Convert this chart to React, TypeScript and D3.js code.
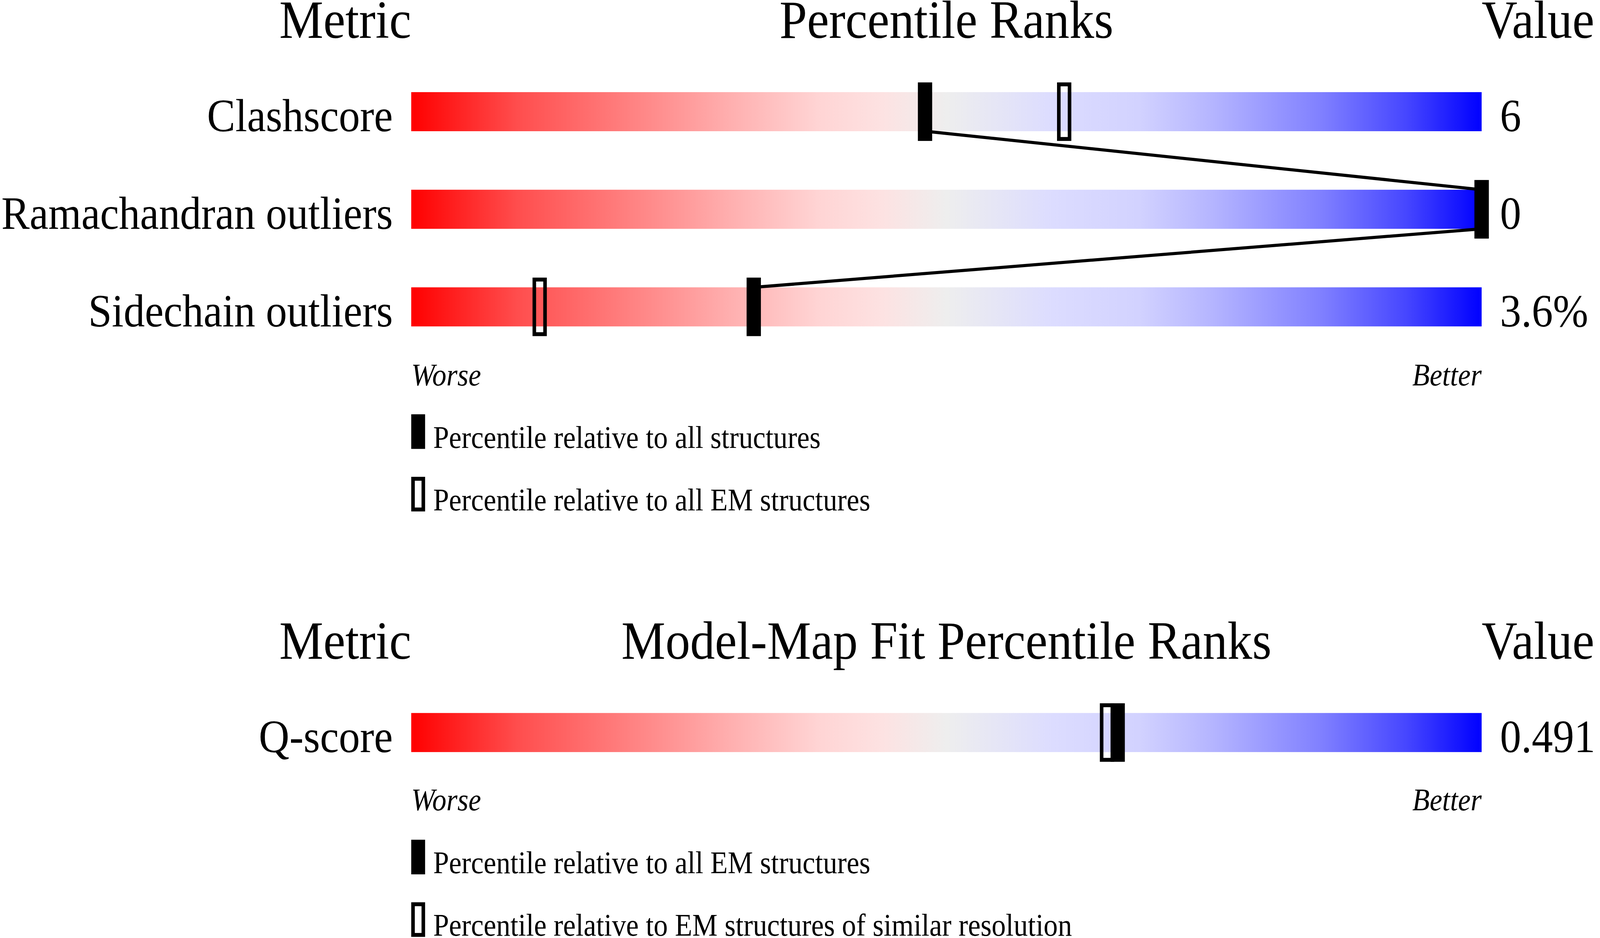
import React, { useEffect, useRef } from 'react'
import * as d3 from 'd3'

// validation sliders: geometry quality
const geometryMetrics = ['Clashscore', 'Ramachandran outliers', 'Sidechain outliers']
const geometryValues = ['6', '0', '3.6%']
const geometryPctAll = [48, 100, 32]
const geometryPctEM = [61, 100, 12]
const geometryLegend = ['Percentile relative to all structures', 'Percentile relative to all EM structures']

// model-map fit
const fitMetrics = ['Q-score']
const fitValues = ['0.491']
const fitPctAllEM = [66]
const fitPctSimilar = [65]
const fitLegend = ['Percentile relative to all EM structures', 'Percentile relative to EM structures of similar resolution']

const sliderStops: [number, string][] = [
    [0, '#ff0000'],
    [0.1, '#ff4e4e'],
    [0.2, '#ff7f7f'],
    [0.3, '#ffb0b0'],
    [0.38, '#ffd4d4'],
    [0.44, '#fde2e2'],
    [0.5, '#eeeeee'],
    [0.6, '#dcdcff'],
    [0.68, '#d2d2ff'],
    [0.75, '#b4b4ff'],
    [0.85, '#8080ff'],
    [0.93, '#4646ff'],
    [1, '#0000ff'],
]

const W = 1568
const H = 840
const X0 = 403
const X1 = 1452
const BAR_H = 35
const MARK_W = 14
const MARK_H = 52.4
const STROKE = 3.5
const serif = '"Liberation Serif", "Times New Roman", Times, serif'

interface PanelConfig {
    title: string
    headY: number
    top: number
    step: number
    metrics: string[]
    values: string[]
    filled: number[]
    open: number[]
    worseY: number
    legendY: number
    legend: string[]
}

function drawPanel(svg: d3.Selection<SVGSVGElement, unknown, null, undefined>, cfg: PanelConfig) {
    const x = d3.scaleLinear().domain([0, 100]).range([X0, X1])
    const y = (i: number) => cfg.top + i * cfg.step
    const g = svg.append('g').style('font-family', serif).attr('fill', '#000')

    // headers
    g.append('text').attr('x', X0).attr('y', cfg.headY).attr('text-anchor', 'end')
        .style('font-size', '48.5px').text('Metric')
    g.append('text').attr('x', (X0 + X1) / 2).attr('y', cfg.headY).attr('text-anchor', 'middle')
        .style('font-size', '48.5px').text(cfg.title)
    g.append('text').attr('x', X1).attr('y', cfg.headY).attr('text-anchor', 'start')
        .style('font-size', '48.5px').text('Value')

    const rows = cfg.metrics.map((m, i) => ({ m, v: cfg.values[i], a: cfg.filled[i], b: cfg.open[i], i }))

    g.selectAll('rect.bar')
        .data(rows)
        .enter()
        .append('rect')
        .attr('class', 'bar')
        .attr('x', X0)
        .attr('y', d => y(d.i))
        .attr('width', X1 - X0)
        .attr('height', BAR_H)
        .attr('fill', 'url(#slider)')

    g.selectAll('text.metric')
        .data(rows)
        .enter()
        .append('text')
        .attr('class', 'metric')
        .attr('x', X0 - 18)
        .attr('y', d => y(d.i) + BAR_H)
        .attr('text-anchor', 'end')
        .style('font-size', '41.5px')
        .text(d => d.m)

    g.selectAll('text.value')
        .data(rows)
        .enter()
        .append('text')
        .attr('class', 'value')
        .attr('x', X1 + 18)
        .attr('y', d => y(d.i) + BAR_H)
        .style('font-size', '41.5px')
        .text(d => d.v)

    // connecting line between the filled markers
    if (rows.length > 1) {
        const pts: [number, number][] = []
        rows.forEach(d => {
            pts.push([x(d.a), y(d.i)])
            pts.push([x(d.a), y(d.i) + BAR_H])
        })
        g.append('path')
            .attr('d', d3.line()(pts.slice(1, -1)))
            .attr('fill', 'none')
            .attr('stroke', '#000')
            .attr('stroke-width', 2.8)
    }

    const markTop = (i: number) => y(i) + BAR_H / 2 - MARK_H / 2

    g.selectAll('rect.open')
        .data(rows)
        .enter()
        .append('rect')
        .attr('class', 'open')
        .attr('x', d => x(d.b) - MARK_W / 2 + STROKE / 2)
        .attr('y', d => markTop(d.i) + STROKE / 2)
        .attr('width', MARK_W - STROKE)
        .attr('height', MARK_H - STROKE)
        .attr('fill', 'none')
        .attr('stroke', '#000')
        .attr('stroke-width', STROKE)

    g.selectAll('rect.filled')
        .data(rows)
        .enter()
        .append('rect')
        .attr('class', 'filled')
        .attr('x', d => x(d.a) - MARK_W / 2)
        .attr('y', d => markTop(d.i))
        .attr('width', MARK_W)
        .attr('height', MARK_H)
        .attr('fill', '#000')

    g.append('text').attr('x', X0).attr('y', cfg.worseY)
        .style('font-size', '27.8px').style('font-style', 'italic').text('Worse')
    g.append('text').attr('x', X1).attr('y', cfg.worseY).attr('text-anchor', 'end')
        .style('font-size', '27.8px').style('font-style', 'italic').text('Better')

    // legend
    const leg = g.selectAll('g.legend')
        .data(cfg.legend)
        .enter()
        .append('g')
        .attr('class', 'legend')
        .attr('transform', (d, i) => `translate(${X0}, ${cfg.legendY + i * 56})`)

    leg.append('rect')
        .attr('x', (d, i) => (i === 0 ? 0 : STROKE / 2))
        .attr('y', (d, i) => (i === 0 ? -30 : -30 + STROKE / 2))
        .attr('width', (d, i) => (i === 0 ? 13.6 : 13.6 - STROKE))
        .attr('height', (d, i) => (i === 0 ? 31 : 31 - STROKE))
        .attr('fill', (d, i) => (i === 0 ? '#000' : 'none'))
        .attr('stroke', (d, i) => (i === 0 ? 'none' : '#000'))
        .attr('stroke-width', STROKE)

    leg.append('text')
        .attr('x', 21.5)
        .attr('y', 0)
        .style('font-size', '27.8px')
        .text(d => d)
}

const App: React.FC = () => {
    const ref = useRef<SVGSVGElement | null>(null)

    useEffect(() => {
        if (!ref.current) return
        document.body.style.margin = '0'
        document.body.style.overflow = 'hidden'
        const svg = d3.select(ref.current)
        svg.selectAll('*').remove()

        const grad = svg.append('defs').append('linearGradient').attr('id', 'slider')
        grad.selectAll('stop')
            .data(sliderStops)
            .enter()
            .append('stop')
            .attr('offset', d => d[0])
            .attr('stop-color', d => d[1])

        drawPanel(svg, {
            title: 'Percentile Ranks',
            headY: 34,
            top: 82.5,
            step: 87.4,
            metrics: geometryMetrics,
            values: geometryValues,
            filled: geometryPctAll,
            open: geometryPctEM,
            worseY: 345,
            legendY: 401,
            legend: geometryLegend,
        })

        drawPanel(svg, {
            title: 'Model-Map Fit Percentile Ranks',
            headY: 590,
            top: 638.5,
            step: 87.4,
            metrics: fitMetrics,
            values: fitValues,
            filled: fitPctAllEM,
            open: fitPctSimilar,
            worseY: 725.5,
            legendY: 782,
            legend: fitLegend,
        })
    }, [])

    return (
        <svg
            ref={ref}
            viewBox={`0 0 ${W} ${H}`}
            preserveAspectRatio="none"
            style={{ position: 'fixed', left: 0, top: 0, width: '100vw', height: '100vh', background: '#fff', display: 'block' }}
        />
    )
}

export default App
